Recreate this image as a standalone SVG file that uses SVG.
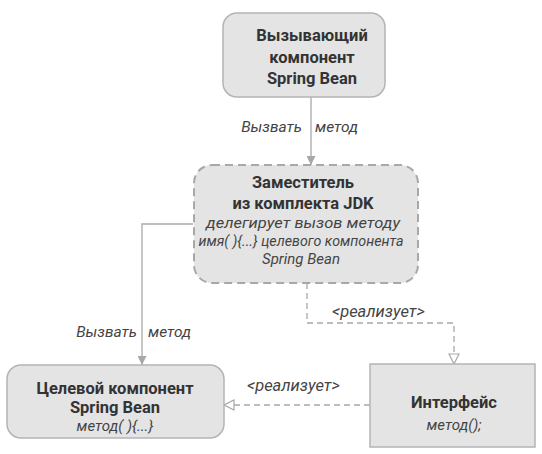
<svg xmlns="http://www.w3.org/2000/svg" width="542" height="454" viewBox="0 0 542 454">
<style>
.box{fill:#e4e4e4;stroke:#b4b4b4;stroke-width:1.5}
.dbox{fill:#e4e4e4;stroke:#a8a8a8;stroke-width:2;stroke-dasharray:8 5}
.ln{fill:none;stroke:#a8a8a8;stroke-width:1.3}
.dl{fill:none;stroke:#a8a8a8;stroke-width:1.3;stroke-dasharray:6 4}
text{font-family:Roboto,"Liberation Sans",sans-serif;fill:#333;text-anchor:middle}
.b{font-weight:bold;font-size:16.5px}
.i{font-style:italic;font-size:15px;fill:#444}
.l{font-style:italic;font-size:15.5px;fill:#444}
.r{font-style:italic;font-size:16.5px;fill:#444;text-anchor:start}
.e{text-anchor:end}
.s{text-anchor:start}
</style>
<defs>
<marker id="fa" viewBox="0 0 10 10" refX="10" refY="5" markerWidth="9" markerHeight="9" markerUnits="userSpaceOnUse" orient="auto"><path d="M0,0 L10,5 L0,10 z" fill="#a8a8a8"/></marker>
<marker id="ha" viewBox="0 0 12 12" refX="11" refY="6" markerWidth="12" markerHeight="12" markerUnits="userSpaceOnUse" orient="auto"><path d="M1,1 L11,6 L1,11 z" fill="#fff" stroke="#a8a8a8" stroke-width="1.2"/></marker>
</defs>
<g id="connectors">
<path class="ln" d="M311,97 V165" marker-end="url(#fa)"/>
<path class="ln" d="M193,224 H142 V365" marker-end="url(#fa)"/>
<path class="dl" d="M307,283 V323 H454 V364" marker-end="url(#ha)"/>
<path class="dl" d="M370,405 H224" marker-end="url(#ha)"/>
<text class="l e" x="302" y="132">Вызвать</text>
<text class="l s" x="315" y="132">метод</text>
<text class="l e" x="137" y="337">Вызвать</text>
<text class="l s" x="148" y="337">метод</text>
<text class="r" x="332" y="317">&lt;реализует&gt;</text>
<text class="r" x="247" y="391">&lt;реализует&gt;</text>
</g>
<g id="caller">
<rect class="box" x="223" y="13" width="162" height="84" rx="14"/>
<text class="b" x="312" y="41">Вызывающий</text>
<text class="b" x="312" y="63">компонент</text>
<text class="b" x="312" y="84">Spring Bean</text>
</g>
<g id="proxy">
<rect class="dbox" x="194" y="165" width="224" height="118" rx="18"/>
<text class="b" x="303" y="188">Заместитель</text>
<text class="b" x="303" y="209">из комплекта JDK</text>
<text class="i" x="303" y="228" textLength="194" lengthAdjust="spacingAndGlyphs">делегирует вызов методу</text>
<text class="i" x="301" y="246" textLength="205" lengthAdjust="spacingAndGlyphs">имя( ){...} целевого компонента</text>
<text class="i" x="301" y="264">Spring Bean</text>
</g>
<g id="target">
<rect class="box" x="7" y="365" width="217" height="73" rx="14"/>
<text class="b" x="115" y="394">Целевой компонент</text>
<text class="b" x="115" y="413">Spring Bean</text>
<text class="i" x="115" y="431">метод( ){...}</text>
</g>
<g id="interface">
<rect class="box" x="370" y="364" width="165" height="83"/>
<text class="b" x="454" y="408">Интерфейс</text>
<text class="i" x="454" y="430">метод();</text>
</g>
</svg>
